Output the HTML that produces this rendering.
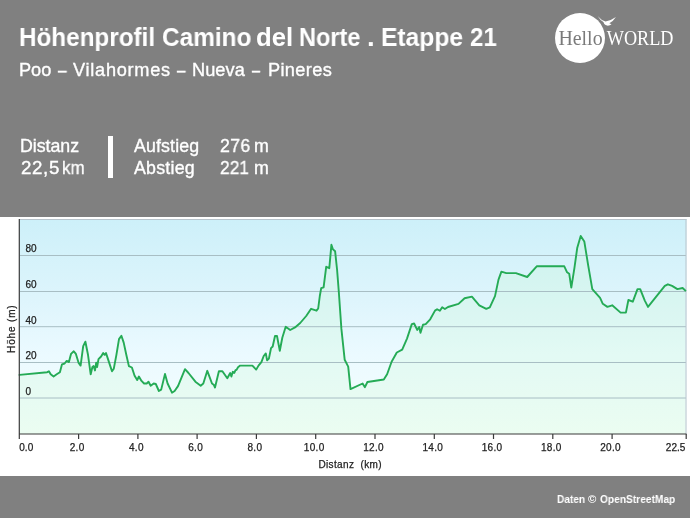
<!DOCTYPE html>
<html><head><meta charset="utf-8"><title>Höhenprofil</title>
<style>
html,body{margin:0;padding:0}
body{width:690px;height:518px;background:#808080;position:relative;overflow:hidden;font-family:"Liberation Sans",sans-serif;color:#fff}
.t{position:absolute;white-space:nowrap;line-height:1;transform-origin:0 0;will-change:transform}
svg{will-change:transform}
#title{left:19px;top:25px;font-size:23px;font-weight:bold}
#sub{left:19px;top:60px;font-size:17.5px}
.st{font-size:16.5px}
#bar{position:absolute;left:108px;top:136.3px;width:5.2px;height:42.2px;background:#fff}
#chart{position:absolute;left:0;top:217px;width:690px;height:259px;background:#fff}
#foot{right:15px;top:493px;font-size:11px;font-weight:bold}
svg text{font-family:"Liberation Sans",sans-serif}
</style></head><body>
<div class="t" style="left:19.1px;top:25.4px;font-size:25.6px;font-weight:bold;letter-spacing:0.0px;transform:scaleX(0.948)">Höhenprofil</div>
<div class="t" style="left:161.8px;top:25.4px;font-size:25.6px;font-weight:bold;letter-spacing:0.0px;transform:scaleX(0.953)">Camino</div>
<div class="t" style="left:256.2px;top:25.4px;font-size:25.6px;font-weight:bold;letter-spacing:0.0px;transform:scaleX(1.006)">del</div>
<div class="t" style="left:299.0px;top:25.4px;font-size:25.6px;font-weight:bold;letter-spacing:0.0px;transform:scaleX(0.92)">Norte</div>
<div class="t" style="left:366.8px;top:25.4px;font-size:25.6px;font-weight:bold;letter-spacing:0.0px;transform:scaleX(1.08)">.</div>
<div class="t" style="left:381.2px;top:25.4px;font-size:25.6px;font-weight:bold;letter-spacing:0.0px;transform:scaleX(0.962)">Etappe</div>
<div class="t" style="left:470.0px;top:25.4px;font-size:25.6px;font-weight:bold;letter-spacing:0.0px;transform:scaleX(0.943)">21</div>
<div class="t" style="left:19.1px;top:60.5px;font-size:18.2px;font-weight:normal;letter-spacing:-0.05px;-webkit-text-stroke:0.35px #fff">Poo</div>
<div class="t" style="left:57.9px;top:60.5px;font-size:18.2px;font-weight:normal;letter-spacing:0.0px;-webkit-text-stroke:0.35px #fff;transform:scaleX(0.845)">–</div>
<div class="t" style="left:73.0px;top:60.5px;font-size:18.2px;font-weight:normal;letter-spacing:0.72px;-webkit-text-stroke:0.35px #fff">Vilahormes</div>
<div class="t" style="left:176.7px;top:60.5px;font-size:18.2px;font-weight:normal;letter-spacing:0.0px;-webkit-text-stroke:0.35px #fff;transform:scaleX(0.836)">–</div>
<div class="t" style="left:192.2px;top:60.5px;font-size:18.2px;font-weight:normal;letter-spacing:0.05px;-webkit-text-stroke:0.35px #fff">Nueva</div>
<div class="t" style="left:252.4px;top:60.5px;font-size:18.2px;font-weight:normal;letter-spacing:0.0px;-webkit-text-stroke:0.35px #fff;transform:scaleX(0.782)">–</div>
<div class="t" style="left:267.6px;top:60.5px;font-size:18.2px;font-weight:normal;letter-spacing:0.35px;-webkit-text-stroke:0.35px #fff">Pineres</div>
<div class="t" style="left:19.5px;top:137.7px;font-size:17.8px;font-weight:normal;letter-spacing:-0.03px;-webkit-text-stroke:0.35px #fff">Distanz</div>
<div class="t" style="left:20.5px;top:160.0px;font-size:17.8px;font-weight:normal;letter-spacing:0.6px;-webkit-text-stroke:0.35px #fff;transform:scaleX(1.053)">22,5</div>
<div class="t" style="left:62.1px;top:160.0px;font-size:17.8px;font-weight:normal;letter-spacing:0.0px;-webkit-text-stroke:0.35px #fff;transform:scaleX(0.95)">km</div>
<div class="t" style="left:133.8px;top:137.7px;font-size:17.8px;font-weight:normal;letter-spacing:0.13px;-webkit-text-stroke:0.35px #fff">Aufstieg</div>
<div class="t" style="left:133.8px;top:160.0px;font-size:17.8px;font-weight:normal;letter-spacing:0.22px;-webkit-text-stroke:0.35px #fff">Abstieg</div>
<div class="t" style="left:219.6px;top:137.7px;font-size:17.8px;font-weight:normal;letter-spacing:0.3px;-webkit-text-stroke:0.35px #fff;transform:scaleX(0.993)">276</div>
<div class="t" style="left:254.3px;top:137.7px;font-size:17.8px;font-weight:normal;letter-spacing:0.0px;-webkit-text-stroke:0.35px #fff">m</div>
<div class="t" style="left:219.6px;top:160.0px;font-size:17.8px;font-weight:normal;letter-spacing:0.0px;-webkit-text-stroke:0.35px #fff;transform:scaleX(0.976)">221</div>
<div class="t" style="left:254.3px;top:160.0px;font-size:17.8px;font-weight:normal;letter-spacing:0.0px;-webkit-text-stroke:0.35px #fff">m</div>
<div class="t" style="left:557.0px;top:493.9px;font-size:11px;font-weight:bold;letter-spacing:0.0px;transform:scaleX(0.92)">Daten</div>
<div class="t" style="left:587.8px;top:493.9px;font-size:11px;font-weight:bold;letter-spacing:0.0px;transform:scaleX(1.025)">©</div>
<div class="t" style="left:599.8px;top:493.9px;font-size:11px;font-weight:bold;letter-spacing:0.0px;transform:scaleX(0.926)">OpenStreetMap</div>
<div id="bar"></div>
<svg id="logo" style="position:absolute;left:540px;top:0" width="150" height="80" viewBox="540 0 150 80">
<circle cx="580" cy="38" r="25" fill="#fff"/>
<text x="558.4" y="45.4" font-size="22" fill="#7a7a7a" textLength="44.2" lengthAdjust="spacingAndGlyphs" style="font-family:'Liberation Serif',serif">Hello</text>
<text x="606.7" y="45.2" font-size="20" fill="#fff" textLength="66.8" lengthAdjust="spacingAndGlyphs" style="font-family:'Liberation Serif',serif">WORLD</text>
<path d="M597.8 16.3 Q601.5 20.6 605.5 21.4 Q610.5 20.8 615.9 16.9 Q613.5 20.8 609.3 23.3 L611.5 24.3 Q610 25.6 607.8 25.7 Q605.2 25.2 604.3 24 Q603.9 22.8 603.4 22 Q600 20 597.8 16.3Z" fill="#fff"/>
</svg>
<div id="chart">
<svg width="690" height="259" viewBox="0 217 690 259" style="position:absolute;left:0;top:0">
<defs>
<linearGradient id="bg" x1="0" y1="0" x2="0" y2="1"><stop offset="0" stop-color="#cdf0f9"/><stop offset="0.38" stop-color="#def5fc"/><stop offset="0.63" stop-color="#ebfaff"/><stop offset="1" stop-color="#f5fefc"/></linearGradient>
</defs>
<rect x="19" y="219" width="667.5" height="215" fill="url(#bg)"/>
<polygon points="19.5,434 19.5,374.9 47.2,372.2 48.9,371.3 50.7,374.3 53.6,376.5 56.7,374.3 59.9,372.2 62.0,364.3 64.6,363.5 66.7,360.9 68.9,362.1 71.0,353.9 73.8,351.3 75.9,353.9 78.5,362.6 80.6,365.6 83.2,346.1 85.4,341.7 88.0,354.8 90.7,374.3 92.4,367.0 93.6,366.1 95.0,370.4 96.2,362.6 97.1,367.0 98.5,359.1 101.1,356.5 103.2,353.0 104.6,354.8 106.0,353.0 108.0,359.1 110.3,366.1 112.0,371.3 113.8,368.7 116.4,354.8 119.0,339.1 121.4,335.7 123.7,342.6 126.3,354.8 128.9,366.1 131.9,367.5 134.6,375.7 137.2,380.0 138.9,376.5 141.5,380.9 144.1,383.5 146.7,383.5 148.5,381.7 150.7,385.7 153.7,383.5 155.8,384.0 158.9,391.0 161.2,389.6 165.0,373.9 167.6,383.5 172.0,392.7 174.6,391.0 178.0,386.1 185.0,369.2 188.5,373.0 195.4,381.7 200.7,385.7 203.3,383.5 207.3,370.8 212.0,383.5 213.7,384.7 215.0,387.5 218.9,371.3 222.4,371.3 227.3,378.3 230.2,373.0 231.4,376.5 232.8,371.8 234.2,373.0 235.4,370.4 236.7,369.6 238.0,367.3 240.2,365.6 252.4,365.6 256.2,369.6 258.5,365.6 261.4,362.1 263.7,356.0 265.8,353.4 267.1,360.4 268.9,358.6 271.0,348.2 272.7,346.5 275.0,336.0 277.0,336.0 279.8,350.8 282.3,337.8 285.7,326.8 290.2,330.0 295.0,327.4 300.2,323.0 306.2,316.0 311.1,308.8 316.5,310.7 318.2,308.5 319.8,296.0 321.2,288.2 323.6,287.3 326.2,266.8 329.3,268.2 331.4,244.8 332.8,249.1 335.1,251.2 337.1,270.0 338.9,293.0 341.4,328.9 344.7,359.8 348.2,366.6 350.5,389.1 362.6,383.5 364.9,387.2 367.4,382.0 383.8,379.5 387.1,374.3 391.6,361.7 396.8,352.5 402.2,349.6 407.0,338.6 411.8,324.1 414.1,323.5 417.2,329.9 419.2,327.0 420.5,332.8 423.0,324.7 425.7,324.1 430.2,319.3 435.0,310.6 437.1,309.2 439.9,310.8 442.2,307.3 444.9,309.0 448.0,307.0 458.5,303.9 464.6,298.3 471.9,296.6 479.3,305.3 486.3,308.8 489.8,307.4 495.0,296.1 498.5,279.6 501.4,271.7 506.3,273.1 515.9,273.1 527.2,277.0 536.7,266.3 564.3,266.3 567.1,272.3 569.2,273.7 571.3,287.6 574.4,268.1 577.2,248.1 580.7,235.9 584.3,241.4 588.1,264.9 592.3,289.1 600.1,297.9 602.8,303.8 607.4,306.9 612.2,305.3 620.6,312.6 625.9,312.6 628.4,300.0 632.8,301.7 637.5,289.1 640.2,289.1 644.8,300.6 648.0,306.9 664.8,285.9 667.9,284.3 672.1,285.9 677.4,289.1 682.6,288.0 685.4,290.6 685.4,434" fill="rgb(195,248,198)" fill-opacity="0.2"/>
<g stroke="#a8bec4" stroke-width="1">
<line x1="20" x2="686" y1="255.5" y2="255.5"/>
<line x1="20" x2="686" y1="291.5" y2="291.5"/>
<line x1="20" x2="686" y1="326.7" y2="326.7"/>
<line x1="20" x2="686" y1="362.5" y2="362.5"/>
<line x1="20" x2="686" y1="398" y2="398"/>
</g>
<line x1="19" x2="686.5" y1="219.5" y2="219.5" stroke="#b8c4cc" stroke-width="1"/>
<line x1="686" x2="686" y1="219" y2="434" stroke="#b8c4cc" stroke-width="1"/>
<polyline points="19.5,374.9 47.2,372.2 48.9,371.3 50.7,374.3 53.6,376.5 56.7,374.3 59.9,372.2 62.0,364.3 64.6,363.5 66.7,360.9 68.9,362.1 71.0,353.9 73.8,351.3 75.9,353.9 78.5,362.6 80.6,365.6 83.2,346.1 85.4,341.7 88.0,354.8 90.7,374.3 92.4,367.0 93.6,366.1 95.0,370.4 96.2,362.6 97.1,367.0 98.5,359.1 101.1,356.5 103.2,353.0 104.6,354.8 106.0,353.0 108.0,359.1 110.3,366.1 112.0,371.3 113.8,368.7 116.4,354.8 119.0,339.1 121.4,335.7 123.7,342.6 126.3,354.8 128.9,366.1 131.9,367.5 134.6,375.7 137.2,380.0 138.9,376.5 141.5,380.9 144.1,383.5 146.7,383.5 148.5,381.7 150.7,385.7 153.7,383.5 155.8,384.0 158.9,391.0 161.2,389.6 165.0,373.9 167.6,383.5 172.0,392.7 174.6,391.0 178.0,386.1 185.0,369.2 188.5,373.0 195.4,381.7 200.7,385.7 203.3,383.5 207.3,370.8 212.0,383.5 213.7,384.7 215.0,387.5 218.9,371.3 222.4,371.3 227.3,378.3 230.2,373.0 231.4,376.5 232.8,371.8 234.2,373.0 235.4,370.4 236.7,369.6 238.0,367.3 240.2,365.6 252.4,365.6 256.2,369.6 258.5,365.6 261.4,362.1 263.7,356.0 265.8,353.4 267.1,360.4 268.9,358.6 271.0,348.2 272.7,346.5 275.0,336.0 277.0,336.0 279.8,350.8 282.3,337.8 285.7,326.8 290.2,330.0 295.0,327.4 300.2,323.0 306.2,316.0 311.1,308.8 316.5,310.7 318.2,308.5 319.8,296.0 321.2,288.2 323.6,287.3 326.2,266.8 329.3,268.2 331.4,244.8 332.8,249.1 335.1,251.2 337.1,270.0 338.9,293.0 341.4,328.9 344.7,359.8 348.2,366.6 350.5,389.1 362.6,383.5 364.9,387.2 367.4,382.0 383.8,379.5 387.1,374.3 391.6,361.7 396.8,352.5 402.2,349.6 407.0,338.6 411.8,324.1 414.1,323.5 417.2,329.9 419.2,327.0 420.5,332.8 423.0,324.7 425.7,324.1 430.2,319.3 435.0,310.6 437.1,309.2 439.9,310.8 442.2,307.3 444.9,309.0 448.0,307.0 458.5,303.9 464.6,298.3 471.9,296.6 479.3,305.3 486.3,308.8 489.8,307.4 495.0,296.1 498.5,279.6 501.4,271.7 506.3,273.1 515.9,273.1 527.2,277.0 536.7,266.3 564.3,266.3 567.1,272.3 569.2,273.7 571.3,287.6 574.4,268.1 577.2,248.1 580.7,235.9 584.3,241.4 588.1,264.9 592.3,289.1 600.1,297.9 602.8,303.8 607.4,306.9 612.2,305.3 620.6,312.6 625.9,312.6 628.4,300.0 632.8,301.7 637.5,289.1 640.2,289.1 644.8,300.6 648.0,306.9 664.8,285.9 667.9,284.3 672.1,285.9 677.4,289.1 682.6,288.0 685.4,290.6" fill="none" stroke="#25ab56" stroke-width="1.9" stroke-linejoin="round" stroke-linecap="round"/>
<g stroke="#3a3a3a" stroke-width="1.2">
<line x1="19.3" x2="19.3" y1="219" y2="439"/>
<line x1="19" x2="686.5" y1="434" y2="434"/>
<line x1="78.6" x2="78.6" y1="434" y2="439"/>
<line x1="137.9" x2="137.9" y1="434" y2="439"/>
<line x1="197.1" x2="197.1" y1="434" y2="439"/>
<line x1="256.4" x2="256.4" y1="434" y2="439"/>
<line x1="315.7" x2="315.7" y1="434" y2="439"/>
<line x1="375.0" x2="375.0" y1="434" y2="439"/>
<line x1="434.3" x2="434.3" y1="434" y2="439"/>
<line x1="493.5" x2="493.5" y1="434" y2="439"/>
<line x1="552.8" x2="552.8" y1="434" y2="439"/>
<line x1="612.1" x2="612.1" y1="434" y2="439"/>
<line x1="686.2" x2="686.2" y1="434" y2="439"/>
</g>
<g font-size="10" fill="#222" stroke="#222" stroke-width="0.25">
<text x="19.3" y="451">0.0</text>
<text x="77.1" y="451" text-anchor="middle" letter-spacing="0.3">2.0</text>
<text x="136.4" y="451" text-anchor="middle" letter-spacing="0.3">4.0</text>
<text x="195.6" y="451" text-anchor="middle" letter-spacing="0.3">6.0</text>
<text x="254.9" y="451" text-anchor="middle" letter-spacing="0.3">8.0</text>
<text x="314.2" y="451" text-anchor="middle" letter-spacing="0.3">10.0</text>
<text x="373.5" y="451" text-anchor="middle" letter-spacing="0.3">12.0</text>
<text x="432.8" y="451" text-anchor="middle" letter-spacing="0.3">14.0</text>
<text x="492.0" y="451" text-anchor="middle" letter-spacing="0.3">16.0</text>
<text x="551.3" y="451" text-anchor="middle" letter-spacing="0.3">18.0</text>
<text x="610.6" y="451" text-anchor="middle" letter-spacing="0.3">20.0</text>
<text x="685.3" y="451" text-anchor="end">22.5</text>
<text x="25.5" y="252.1">80</text>
<text x="25.5" y="288.1">60</text>
<text x="25.5" y="323.6">40</text>
<text x="25.5" y="359.1">20</text>
<text x="25.5" y="394.6">0</text>
<text x="350.2" y="467.8" text-anchor="middle" xml:space="preserve" letter-spacing="0.36">Distanz  (km)</text>
<text transform="translate(14.6,328.7) rotate(-90)" text-anchor="middle" letter-spacing="0.85">Höhe (m)</text>
</g>
</svg>
</div>
</body></html>
